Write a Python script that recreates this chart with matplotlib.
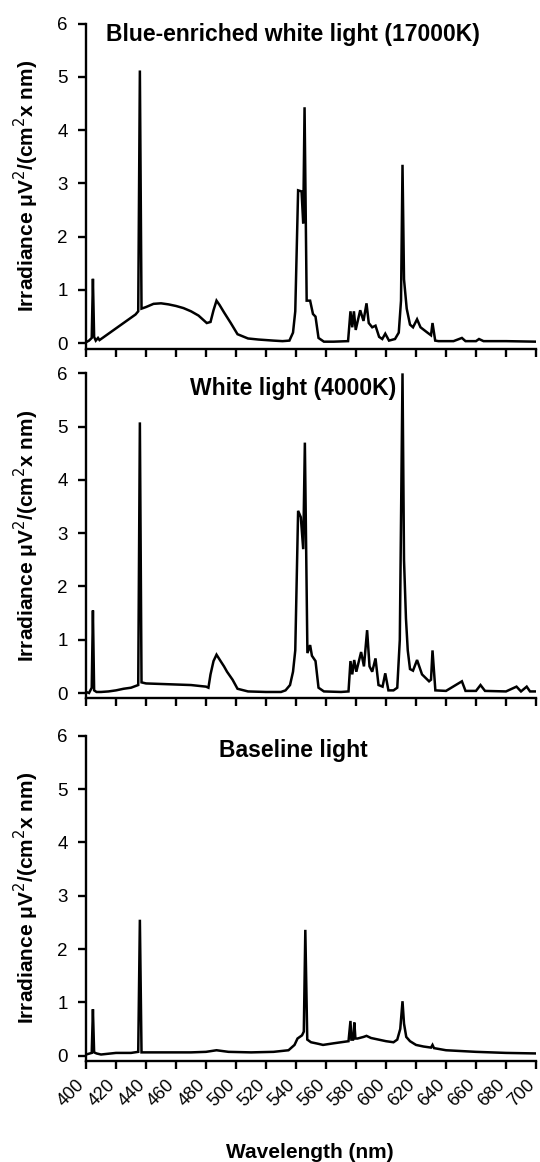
import matplotlib
matplotlib.use("Agg")
import matplotlib.pyplot as plt
import matplotlib.transforms as mtransforms

plt.rcParams["font.family"] = ["Liberation Sans", "DejaVu Sans"]

# spectra (wavelength nm, irradiance)
blue_wl = [400, 402, 403.8, 404.6, 405.4, 406.5, 408, 409, 412, 416, 420, 425, 430, 433, 434.8,
           435.9, 437, 440, 445, 450, 455, 460, 465, 470, 475, 480.5, 483, 485, 487, 489, 492,
           496.5, 501, 508, 515, 525, 531, 535.6, 538, 539.5, 541.4, 543.7, 544.8, 545.7, 547.1,
           549.4, 551.3, 553, 555, 558.6, 565, 574.7, 576.3, 577.5, 578.6, 579.8, 581, 582.8,
           585, 587, 588.5, 590.8, 593, 595.4, 597.5, 599.5, 602, 606, 608.5, 610, 611, 612,
           613.8, 616, 618, 620.7, 623, 627.6, 630, 631, 632.8, 635, 645, 650.6, 653, 660,
           662, 665, 680, 700]
blue_val = [0.02, 0.05, 0.1, 1.21, 0.12, 0.05, 0.1, 0.06, 0.12, 0.2, 0.28, 0.38, 0.48, 0.54, 0.6,
            5.12, 0.65, 0.68, 0.74, 0.75, 0.73, 0.7, 0.66, 0.6, 0.52, 0.38, 0.4, 0.62, 0.8, 0.72,
            0.58, 0.38, 0.17, 0.09, 0.07, 0.05, 0.04, 0.05, 0.2, 0.6, 2.87, 2.85, 2.25, 4.43, 0.8,
            0.8, 0.55, 0.5, 0.1, 0.03, 0.03, 0.04, 0.6, 0.3, 0.6, 0.25, 0.4, 0.62, 0.42, 0.75,
            0.38, 0.3, 0.33, 0.12, 0.08, 0.18, 0.05, 0.08, 0.2, 0.8, 3.35, 1.2, 0.65, 0.35, 0.3,
            0.45, 0.3, 0.2, 0.15, 0.38, 0.05, 0.04, 0.04, 0.1, 0.04, 0.04, 0.08, 0.04, 0.04, 0.03]

white_wl = [400, 402, 403.8, 404.6, 405.4, 407, 410, 415, 420, 425, 430, 434.8, 435.9, 437, 440,
            450, 460, 470, 480, 481.6, 483, 485, 487, 489.7, 492, 494, 497.7, 501, 508, 520, 530,
            533, 536, 538, 539.5, 541.4, 543.2, 544.8, 545.9, 547.6, 549.4, 550.6, 553, 555,
            558.6, 570, 575, 576.3, 577.5, 578.8, 580.2, 583.4, 585.3, 587.4, 589, 590.8, 593,
            595, 597.7, 599.5, 601.6, 605, 607.5, 609.2, 611, 612, 613.3, 614.5, 616, 618,
            620.7, 624, 628.7, 630, 631, 632.9, 640, 650.6, 653, 660, 663, 666, 680, 687, 690,
            693.8, 696, 700]
white_val = [0.02, 0.0, 0.1, 1.55, 0.05, 0.02, 0.02, 0.03, 0.05, 0.08, 0.1, 0.15, 5.08, 0.2, 0.18,
             0.17, 0.16, 0.15, 0.12, 0.1, 0.35, 0.6, 0.72, 0.6, 0.5, 0.4, 0.25, 0.08, 0.03, 0.02,
             0.02, 0.05, 0.15, 0.4, 0.8, 3.42, 3.3, 2.7, 4.7, 0.75, 0.9, 0.7, 0.6, 0.1, 0.03,
             0.02, 0.03, 0.6, 0.35, 0.62, 0.4, 0.77, 0.5, 1.18, 0.5, 0.4, 0.65, 0.15, 0.12, 0.37,
             0.05, 0.05, 0.1, 1.0, 6.0, 2.5, 1.4, 0.8, 0.45, 0.42, 0.62, 0.35, 0.22, 0.25, 0.8,
             0.05, 0.04, 0.22, 0.04, 0.04, 0.15, 0.04, 0.03, 0.12, 0.03, 0.12, 0.03, 0.03]

base_wl = [400, 403.8, 404.6, 405.4, 407, 410, 420, 430, 434.8, 435.9, 437, 450, 470, 480, 487,
           495, 510, 525, 535, 539, 541, 544, 545.2, 546.2, 547.5, 550, 555, 558, 565, 570,
           575, 576.3, 576.9, 578, 578.9, 579.6, 581, 585, 587, 590, 595, 600, 605, 607.5,
           609.5, 611, 612, 613.5, 616, 620, 625, 630, 631, 632, 640, 660, 680, 700]
base_val = [0.02, 0.05, 0.87, 0.06, 0.04, 0.02, 0.05, 0.05, 0.07, 2.55, 0.06, 0.06, 0.06, 0.07,
            0.1, 0.07, 0.06, 0.07, 0.1, 0.2, 0.32, 0.38, 0.45, 2.36, 0.3, 0.25, 0.22, 0.2, 0.23,
            0.25, 0.27, 0.65, 0.3, 0.3, 0.62, 0.32, 0.32, 0.35, 0.37, 0.33, 0.3, 0.27, 0.25,
            0.3, 0.5, 1.02, 0.6, 0.35, 0.27, 0.2, 0.17, 0.15, 0.2, 0.14, 0.1, 0.07, 0.05, 0.04]

titles = ["Blue-enriched white light (17000K)", "White light (4000K)", "Baseline light"]
spectra = [(blue_wl, blue_val), (white_wl, white_val), (base_wl, base_val)]
xticks = list(range(400, 701, 20))
yticks = [0, 1, 2, 3, 4, 5, 6]

fig = plt.figure(figsize=(5.4, 11.62), dpi=100)
bottoms = [0.700, 0.399, 0.087]
title_y = [0.947, 0.934, 0.934]

for i in range(3):
    ax = fig.add_axes([0.1593, bottoms[i], 0.8333, 0.2797])
    wl, val = spectra[i]
    ax.plot(wl, val, color="black", lw=1.8, solid_joinstyle="miter")
    ax.set_xlim(400, 700)
    ax.set_ylim(-0.1, 6)
    ax.set_xticks(xticks)
    ax.set_yticks(yticks)
    for s in ["top", "right"]:
        ax.spines[s].set_visible(False)
    for s in ["left", "bottom"]:
        ax.spines[s].set_linewidth(1.7)
    ax.tick_params(axis="both", direction="out", length=6, width=1.7, labelsize=13.5)
    ax.tick_params(axis="y", pad=7)
    if i < 2:
        ax.set_xticklabels([])
    else:
        ax.set_xticklabels([str(t) for t in xticks], rotation=45, ha="right",
                           rotation_mode="anchor", fontsize=13)
        ax.tick_params(axis="x", pad=4)
        # pull labels left so their right edge sits under the tick
        shift = mtransforms.ScaledTranslation(-7 / 72, -1 / 72, fig.dpi_scale_trans)
        for lab in ax.get_xticklabels():
            lab.set_transform(lab.get_transform() + shift)
    ax.set_ylabel("Irradiance \u03bcV$^2$/(cm$^2$x nm)", fontsize=15, fontweight="bold")
    ax.yaxis.set_label_coords(-0.099, 0.5)
    ax.text(0.46, title_y[i], titles[i], transform=ax.transAxes, ha="center", va="baseline",
            fontsize=16.5, fontweight="bold")

fig.text(0.574, 0.008, "Wavelength (nm)", ha="center", va="center", fontsize=15,
         fontweight="bold")

plt.savefig("out.png", dpi=100)
